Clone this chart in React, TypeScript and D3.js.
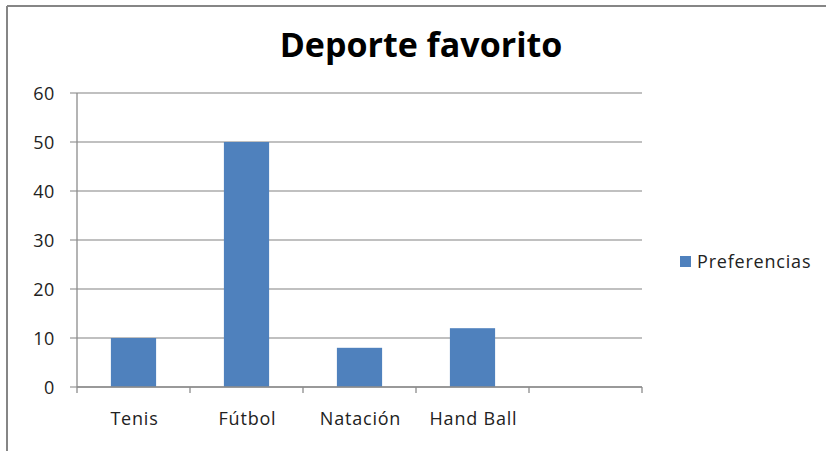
import React from "react";
import * as d3 from "d3";

const categories = ["Tenis", "Fútbol", "Natación", "Hand Ball", ""];
const values: (number | null)[] = [10, 50, 8, 12, null];
const yTicks = [0, 10, 20, 30, 40, 50, 60];
const seriesName = "Preferencias";
const title = "Deporte favorito";

export default function App() {
  const W = 826, H = 451;
  const left = 77, right = 642, top = 93, bottom = 387;
  const x = d3.scaleBand<string>().domain(categories.map((c, i) => i + ":" + c)).range([left, right]).paddingInner(0).paddingOuter(0);
  const y = d3.scaleLinear().domain([0, 60]).range([bottom, top]);
  const bw = x.bandwidth() * 0.4;
  const font = "'Open Sans', 'DejaVu Sans', sans-serif";
  const keys = x.domain();
  return (
    <svg width={W} height={H} style={{ position: "absolute", left: 0, top: 0, background: "#fff" }}>
      <line x1={7} x2={W} y1={6} y2={6} stroke="#868686" strokeWidth={2} />
      <line x1={7} x2={7} y1={6} y2={H} stroke="#868686" strokeWidth={2} />
      <text x={421} y={57} textAnchor="middle" fontFamily={font} fontWeight="bold" fontSize={34} fill="#000">{title}</text>
      {yTicks.map((t) => (
        <g key={t}>
          <line x1={left - 7} x2={right} y1={y(t)} y2={y(t)} stroke="#ababab" strokeWidth={1.3} />
          <text x={left - 22} y={y(t) + 6.5} textAnchor="end" fontFamily={font} fontSize={18} letterSpacing={0.6} fill="#222">{t}</text>
        </g>
      ))}
      <line x1={left} x2={left} y1={top} y2={bottom} stroke="#8c8c8c" strokeWidth={1.3} />
      {keys.map((k, i) => {
        const v = values[i];
        const cx = (x(k) as number) + x.bandwidth() / 2;
        return (
          <g key={k}>
            {v != null && (
              <rect x={cx - bw / 2} y={y(v)} width={bw} height={y(0) - y(v)} fill="#4f81bd" />
            )}
            <text x={cx + 1} y={425} textAnchor="middle" fontFamily={font} fontSize={18} letterSpacing={0.8} fill="#222">{categories[i]}</text>
          </g>
        );
      })}
      <line x1={left} x2={right} y1={bottom} y2={bottom} stroke="#8c8c8c" strokeWidth={1.3} />
      {[...keys.map((k) => x(k) as number), right].map((tx, i) => (
        <line key={i} x1={tx} x2={tx} y1={bottom} y2={bottom + 6} stroke="#8c8c8c" strokeWidth={1.3} />
      ))}
      <rect x={680} y={256} width={11} height={11} fill="#4f81bd" />
      <text x={697} y={268} fontFamily={font} fontSize={18} letterSpacing={0.8} fill="#222">{seriesName}</text>
    </svg>
  );
}
